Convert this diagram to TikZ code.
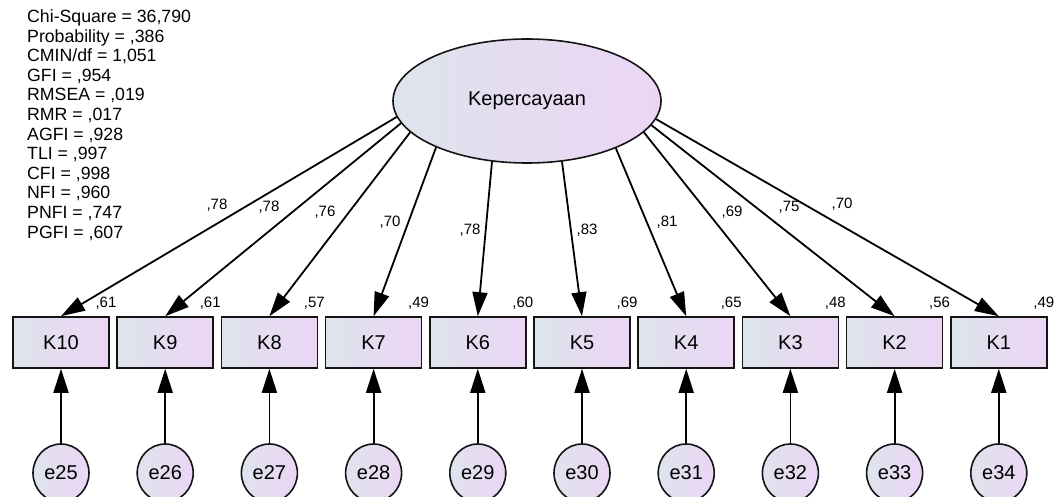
\documentclass[tikz,border=0pt]{standalone}
\usepackage{fontspec}
\setmainfont{Liberation Sans}
\usetikzlibrary{arrows.meta,shapes.geometric}
\definecolor{gradL}{RGB}{222,228,237}
\definecolor{gradR}{RGB}{236,213,244}
\definecolor{edge}{RGB}{20,20,20}
\tikzset{
  obs/.style={draw=edge, line width=1.6pt, left color=gradL, right color=gradR,
    minimum width=96pt, minimum height=51pt, inner sep=0pt, font=\fontsize{20}{20}\selectfont},
  lat/.style={ellipse, draw=edge, line width=1.6pt, left color=gradL, right color=gradR,
    minimum width=268pt, minimum height=124pt, inner sep=0pt, font=\fontsize{20}{20}\selectfont},
  err/.style={ellipse, draw=edge, line width=1.6pt, left color=gradL, right color=gradR,
    minimum width=56pt, minimum height=58pt, inner sep=0pt, font=\fontsize{20}{20}\selectfont},
  arr/.style={line width=1.8pt, draw=black, -{Triangle[length=24pt,width=15pt]}},
  coef/.style={inner sep=0pt, font=\fontsize{15}{15}\selectfont},
  stat/.style={inner sep=0pt, anchor=base west, font=\fontsize{17.7}{17.7}\selectfont},
}
\begin{document}
\begin{tikzpicture}[x=1pt,y=-1pt]
\useasboundingbox (0,0) rectangle (1059,497);
\fill[white] (0,0) rectangle (1059,497);
% fit statistics
\foreach \t [count=\i from 0] in {Chi-Square = 36{,}790, Probability = {,}386, CMIN/df = 1{,}051, GFI = {,}954, RMSEA = {,}019, RMR = {,}017, AGFI = {,}928, TLI = {,}997, CFI = {,}998, NFI = {,}960, PNFI = {,}747, PGFI = {,}607}
  \node[stat] (s\i) at (27,{22.5+19.6*\i}) {\t};
% latent
\node[lat] (L) at (527,101) {Kepercayaan};
% observed, errors
\foreach \k/\e/\r/\lx/\ly/\lv/\ang [count=\i from 0] in {
  10/25/61/217/205/78/187.2, 9/26/61/269/207/78/190.3, 8/27/57/325/212/76/195, 7/28/49/390/222/70/207.2,
  6/29/60/470/230/78/240, 5/30/69/587/230/83/300, 4/31/65/667/222/81/332.8, 3/32/48/732/212/69/345,
  2/33/56/789/207/75/349.7, 1/34/49/842/204/70/352.8}{
  \node[obs] (K\k) at ({61+104.2*\i},342.5) {K\k};
  \node[err] (e\e) at ({61+104.2*\i},473) {e\e};
  \draw[arr] (L.\ang) -- (K\k.north);
  \draw[arr] (e\e) -- (K\k.south);
  \node[coef] (r\k) at ({106+104.2*\i},303) {,\r};
  \node[coef] (l\k) at (\lx,\ly) {,\lv};
}
\end{tikzpicture}
\end{document}
